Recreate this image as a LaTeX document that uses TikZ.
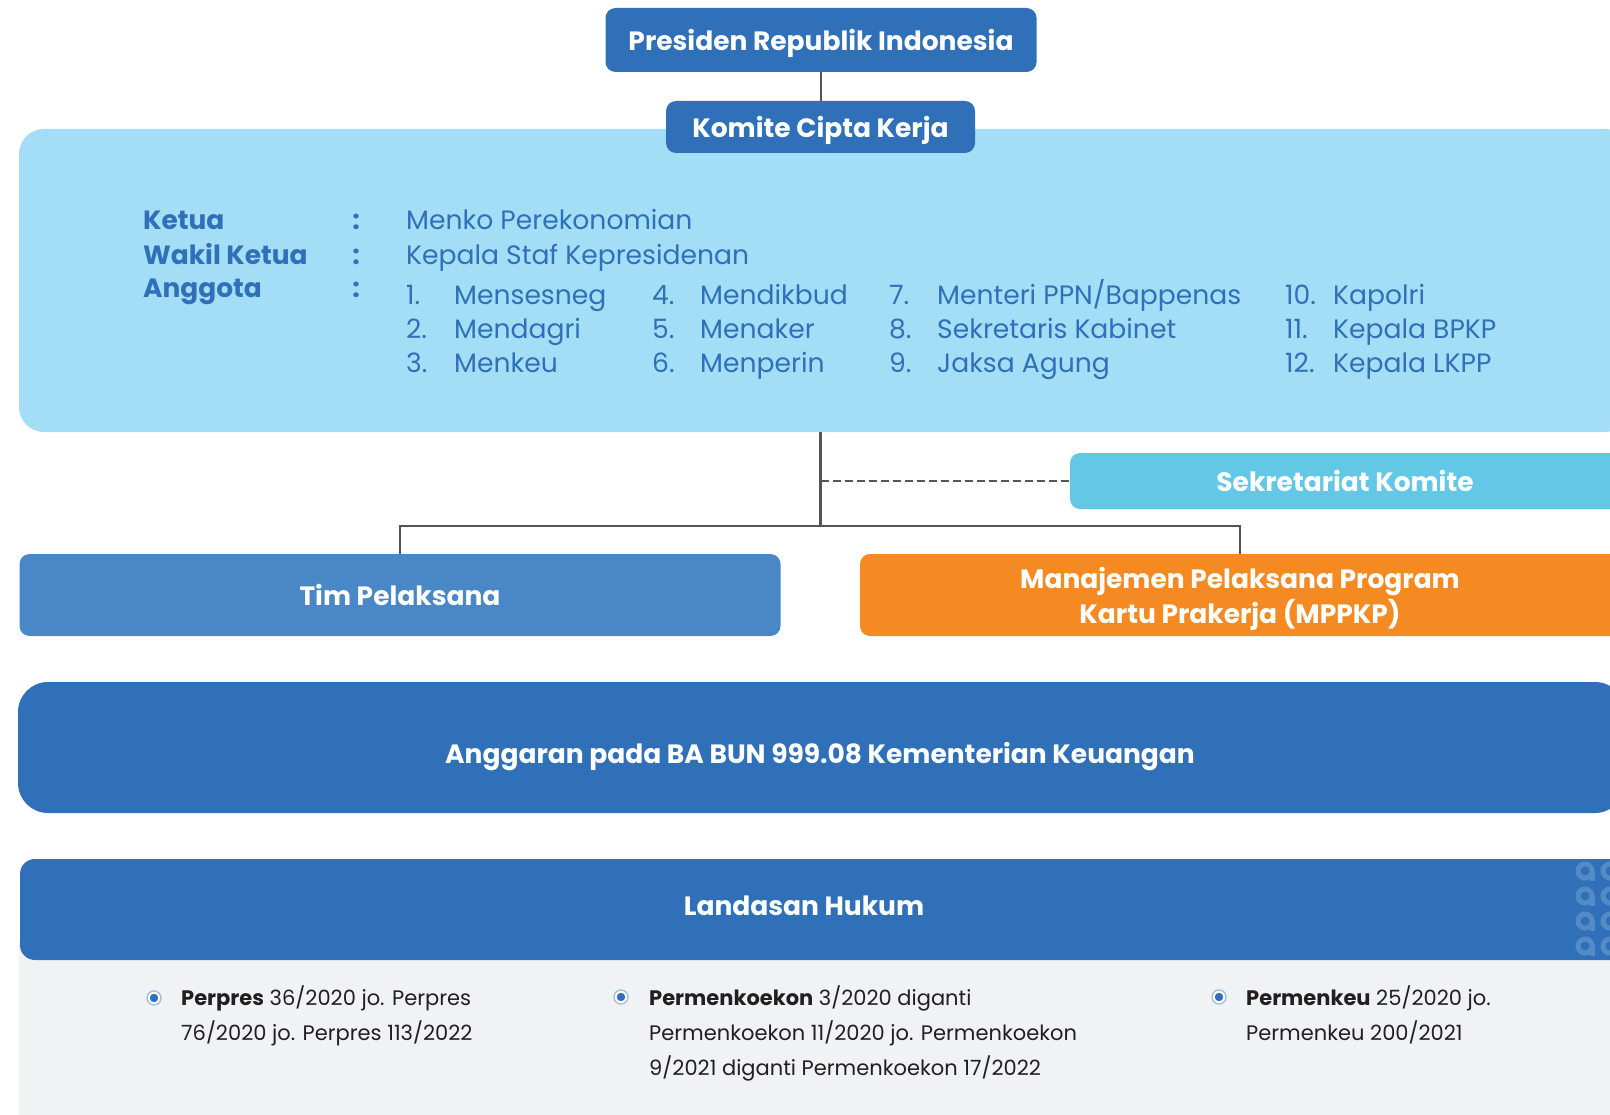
\documentclass[tikz,border=0pt]{standalone}
\usepackage{fontspec}
\setmainfont{Poppins}
\usepackage{xcolor}
\definecolor{kcblue}{HTML}{2F70B8}
\definecolor{kclight}{HTML}{A4DDF6}
\definecolor{kcsky}{HTML}{63C7E6}
\definecolor{kcmid}{HTML}{4A87C6}
\definecolor{kcorange}{HTML}{F58A22}
\definecolor{kcgrey}{HTML}{F1F2F4}
\definecolor{kctext}{HTML}{231F20}
\definecolor{kcline}{HTML}{555555}
\tikzset{
  x=1pt, y=-1pt,
}
\tikzstyle{box}=[rounded corners=10pt,inner sep=0pt,text=white,align=center,text depth=0pt,
  font=\fontsize{26.5}{35}\selectfont\bfseries]
\tikzstyle{link}=[kcline,line width=2.6pt]
\tikzstyle{lbl}=[anchor=base west,inner sep=0pt,text=kcblue,font=\fontsize{26.6}{34}\selectfont]
\tikzstyle{head}=[lbl,font=\fontsize{26.4}{34}\selectfont\bfseries]
\tikzstyle{law}=[anchor=base west,inner sep=0pt,text=kctext,font=\fontsize{21}{35}\selectfont]
\tikzstyle{bullet}=[circle,draw=kcblue!45,line width=1.4pt,fill=white,minimum size=14pt,inner sep=0pt,
  path picture={\fill[kcblue] (path picture bounding box.center) circle (4.2pt);}]
\tikzstyle{ring}=[kcblue!82!white,line width=5pt]

\begin{document}
\begin{tikzpicture}
    \useasboundingbox (0,0) rectangle (1610,1115);
    \clip (0,0) rectangle (1610,1115);

    % komite block
    \node[box,fill=kclight,rounded corners=25pt,minimum width=1611,minimum height=303] (area) at (824.5,280.5) {};
    \node[box,fill=kcblue,minimum width=431,minimum height=64] (presiden) at (821,40) {Presiden Republik Indonesia};
    \node[box,fill=kcblue,minimum width=309,minimum height=52] (komite) at (820.5,127) {Komite Cipta Kerja};

    \node[head] (ketua) at (143,230) {Ketua};
    \node[head] (wakil) at (143,265) {Wakil Ketua};
    \node[head] (anggota) at (143,298) {Anggota};
    \foreach \y/\n in {230/1,265/2,298/3}
      \node[head,anchor=base] (colon\n) at (356,\y) {:};
    \node[lbl] (ketuaval) at (406,230) {Menko Perekonomian};
    \node[lbl] (wakilval) at (406,265) {Kepala Staf Kepresidenan};
    \foreach \n/\x/\y/\t in {1/406/305/Mensesneg, 2/406/339/Mendagri, 3/406/373/Menkeu,
        4/652/305/Mendikbud, 5/652/339/Menaker, 6/652/373/Menperin,
        7/889/305/Menteri PPN\slash Bappenas, 8/889/339/Sekretaris Kabinet, 9/889/373/Jaksa Agung,
        10/1285/305/Kapolri, 11/1285/339/Kepala BPKP, 12/1285/373/Kepala LKPP}
    {
      \node[lbl] (no\n) at (\x,\y) {\n.};
      \node[lbl] (mem\n) at (\x+48,\y) {\t};
    }

    % bawah komite
    \node[box,fill=kcsky,minimum width=550,minimum height=56] (sekretariat) at (1345,481) {Sekretariat Komite};
    \node[box,fill=kcmid,minimum width=761,minimum height=82] (tim) at (400,595) {Tim Pelaksana};
    \node[box,fill=kcorange,minimum width=760,minimum height=82] (mppkp) at (1240,595)
      {Manajemen Pelaksana Program\\Kartu Prakerja (MPPKP)};
    \coordinate (hub) at (820.5,526);

    \draw[link] (presiden.south) -- (presiden.south |- komite.north);
    \draw[link] (komite |- area.south) -- (hub);
    \draw[link] (tim.north) |- (hub) -| (mppkp.north);
    \draw[link,dash pattern=on 8pt off 4pt] (komite |- sekretariat.west) -- (sekretariat.west);

    \node[box,fill=kcblue,rounded corners=30pt,minimum width=1607,minimum height=131] (anggaran) at (821.5,747.5) {};
    \node[box] (anggarantitle) at (820,753) {Anggaran pada BA BUN 999.08 Kementerian Keuangan};

    % landasan hukum
    \fill[kcgrey] (19,940) rectangle (1615,1120);
    \node[box,fill=kcblue,rounded corners=15pt,minimum width=1605,minimum height=101] (hukum) at (822.5,909.5) {};
    \node[box] (hukumtitle) at (804,906) {Landasan Hukum};
    \foreach \r in {0,...,3}
      \foreach \c in {0,1}
      {
        \draw[ring] (1585+25*\c,871+25*\r) circle (7);
        \fill[kcblue!82!white] (1590+25*\c,871+25*\r) rectangle (1595+25*\c,881+25*\r);
      }

    \node[bullet] (dot1) at (154,998) {};
    \node[bullet] (dot2) at (621,997) {};
    \node[bullet] (dot3) at (1219,997) {};
    \node[law] (law1) at (181,1005)
      {\vtop{\hbox{\textbf{Perpres} 36/2020 jo. Perpres}\hbox{76/2020 jo. Perpres 113/2022}}};
    \node[law] (law2) at (649,1005)
      {\vtop{\hbox{\textbf{Permenkoekon} 3/2020 diganti}\hbox{Permenkoekon 11/2020 jo. Permenkoekon}\hbox{9/2021 diganti Permenkoekon 17/2022}}};
    \node[law] (law3) at (1246,1005)
      {\vtop{\hbox{\textbf{Permenkeu} 25/2020 jo.}\hbox{Permenkeu 200/2021}}};
\end{tikzpicture}
\end{document}
